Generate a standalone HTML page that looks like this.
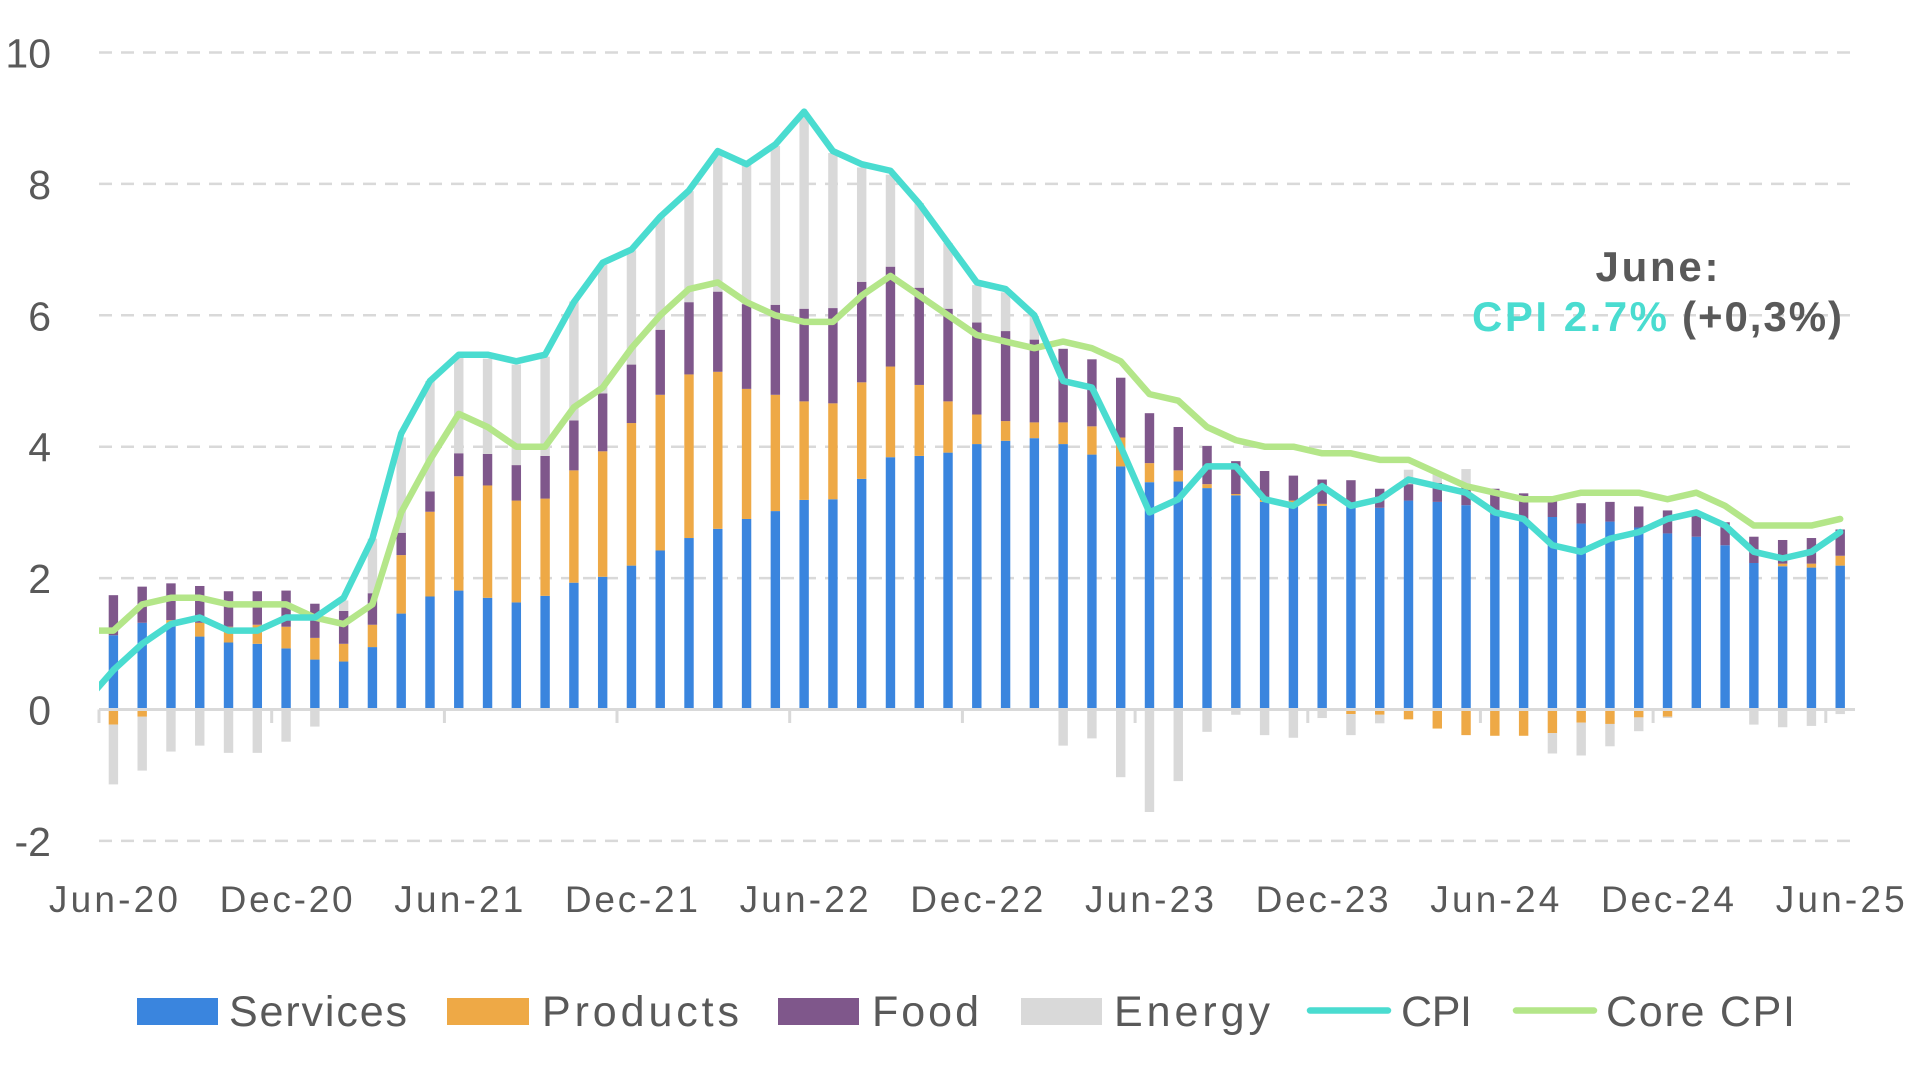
<!DOCTYPE html>
<html>
<head>
<meta charset="utf-8">
<style>
  html, body { margin: 0; padding: 0; background: #ffffff; }
  svg { display: block; }
  .s { fill: #3A85DE; }
  .p { fill: #EEA946; }
  .f { fill: #7F578B; }
  .e { fill: #D9D9D9; }
  text { font-family: "Liberation Sans", Arial, sans-serif; fill: #595959; }
</style>
</head>
<body>
<svg width="1920" height="1080" viewBox="0 0 1920 1080" xmlns="http://www.w3.org/2000/svg">
  <rect x="0" y="0" width="1920" height="1080" fill="#ffffff"/>
  <defs>
    <clipPath id="plot"><rect x="99" y="0" width="1756" height="900"/></clipPath>
  </defs>

  <!-- gridlines -->
  <g stroke="#D9D9D9" stroke-width="2.5" stroke-dasharray="13 9" fill="none">
    <line x1="99" y1="52.5" x2="1855" y2="52.5"/>
    <line x1="99" y1="183.9" x2="1855" y2="183.9"/>
    <line x1="99" y1="315.3" x2="1855" y2="315.3"/>
    <line x1="99" y1="446.7" x2="1855" y2="446.7"/>
    <line x1="99" y1="578.1" x2="1855" y2="578.1"/>
    <line x1="99" y1="840.9" x2="1855" y2="840.9"/>
  </g>

  <!-- y labels -->
  <g font-size="41" text-anchor="end">
    <text x="51" y="67.5">10</text>
    <text x="51" y="198.9">8</text>
    <text x="51" y="330.3">6</text>
    <text x="51" y="461.7">4</text>
    <text x="51" y="593.1">2</text>
    <text x="51" y="724.5">0</text>
    <text x="51" y="855.9">-2</text>
  </g>

  <!-- bars -->
  <g transform="translate(99,709.5) scale(28.78,-65.7)">
    <g transform="translate(0.337)"><rect class="s" y="0" width=".327" height="1.13"/><rect class="p" y="-0.23" width=".327" height="0.23"/><rect class="f" y="1.13" width=".327" height="0.61"/><rect class="e" y="-1.14" width=".327" height="0.91"/></g>
    <g transform="translate(1.337)"><rect class="s" y="0" width=".327" height="1.32"/><rect class="p" y="-0.11" width=".327" height="0.11"/><rect class="f" y="1.32" width=".327" height="0.55"/><rect class="e" y="-0.93" width=".327" height="0.82"/></g>
    <g transform="translate(2.337)"><rect class="s" y="0" width=".327" height="1.29"/><rect class="p" y="1.29" width=".327" height="0.07"/><rect class="f" y="1.36" width=".327" height="0.56"/><rect class="e" y="-0.64" width=".327" height="0.64"/></g>
    <g transform="translate(3.337)"><rect class="s" y="0" width=".327" height="1.11"/><rect class="p" y="1.11" width=".327" height="0.21"/><rect class="f" y="1.32" width=".327" height="0.56"/><rect class="e" y="-0.55" width=".327" height="0.55"/></g>
    <g transform="translate(4.337)"><rect class="s" y="0" width=".327" height="1.02"/><rect class="p" y="1.02" width=".327" height="0.24"/><rect class="f" y="1.26" width=".327" height="0.54"/><rect class="e" y="-0.66" width=".327" height="0.66"/></g>
    <g transform="translate(5.337)"><rect class="s" y="0" width=".327" height="1.00"/><rect class="p" y="1.00" width=".327" height="0.29"/><rect class="f" y="1.29" width=".327" height="0.51"/><rect class="e" y="-0.66" width=".327" height="0.66"/></g>
    <g transform="translate(6.337)"><rect class="s" y="0" width=".327" height="0.93"/><rect class="p" y="0.93" width=".327" height="0.33"/><rect class="f" y="1.26" width=".327" height="0.55"/><rect class="e" y="-0.49" width=".327" height="0.49"/></g>
    <g transform="translate(7.337)"><rect class="s" y="0" width=".327" height="0.76"/><rect class="p" y="0.76" width=".327" height="0.33"/><rect class="f" y="1.09" width=".327" height="0.52"/><rect class="e" y="-0.26" width=".327" height="0.26"/></g>
    <g transform="translate(8.337)"><rect class="s" y="0" width=".327" height="0.73"/><rect class="p" y="0.73" width=".327" height="0.27"/><rect class="f" y="1.00" width=".327" height="0.50"/><rect class="e" y="1.50" width=".327" height="0.16"/></g>
    <g transform="translate(9.337)"><rect class="s" y="0" width=".327" height="0.95"/><rect class="p" y="0.95" width=".327" height="0.34"/><rect class="f" y="1.29" width=".327" height="0.48"/><rect class="e" y="1.77" width=".327" height="0.83"/></g>
    <g transform="translate(10.337)"><rect class="s" y="0" width=".327" height="1.46"/><rect class="p" y="1.46" width=".327" height="0.89"/><rect class="f" y="2.35" width=".327" height="0.34"/><rect class="e" y="2.69" width=".327" height="1.45"/></g>
    <g transform="translate(11.337)"><rect class="s" y="0" width=".327" height="1.72"/><rect class="p" y="1.72" width=".327" height="1.29"/><rect class="f" y="3.01" width=".327" height="0.31"/><rect class="e" y="3.32" width=".327" height="1.68"/></g>
    <g transform="translate(12.337)"><rect class="s" y="0" width=".327" height="1.81"/><rect class="p" y="1.81" width=".327" height="1.74"/><rect class="f" y="3.55" width=".327" height="0.35"/><rect class="e" y="3.90" width=".327" height="1.47"/></g>
    <g transform="translate(13.337)"><rect class="s" y="0" width=".327" height="1.70"/><rect class="p" y="1.70" width=".327" height="1.71"/><rect class="f" y="3.41" width=".327" height="0.48"/><rect class="e" y="3.89" width=".327" height="1.45"/></g>
    <g transform="translate(14.337)"><rect class="s" y="0" width=".327" height="1.63"/><rect class="p" y="1.63" width=".327" height="1.55"/><rect class="f" y="3.18" width=".327" height="0.54"/><rect class="e" y="3.72" width=".327" height="1.53"/></g>
    <g transform="translate(15.337)"><rect class="s" y="0" width=".327" height="1.73"/><rect class="p" y="1.73" width=".327" height="1.48"/><rect class="f" y="3.21" width=".327" height="0.65"/><rect class="e" y="3.86" width=".327" height="1.51"/></g>
    <g transform="translate(16.337)"><rect class="s" y="0" width=".327" height="1.93"/><rect class="p" y="1.93" width=".327" height="1.71"/><rect class="f" y="3.64" width=".327" height="0.76"/><rect class="e" y="4.40" width=".327" height="1.81"/></g>
    <g transform="translate(17.337)"><rect class="s" y="0" width=".327" height="2.02"/><rect class="p" y="2.02" width=".327" height="1.91"/><rect class="f" y="3.93" width=".327" height="0.88"/><rect class="e" y="4.81" width=".327" height="1.96"/></g>
    <g transform="translate(18.337)"><rect class="s" y="0" width=".327" height="2.19"/><rect class="p" y="2.19" width=".327" height="2.17"/><rect class="f" y="4.36" width=".327" height="0.89"/><rect class="e" y="5.25" width=".327" height="1.74"/></g>
    <g transform="translate(19.337)"><rect class="s" y="0" width=".327" height="2.42"/><rect class="p" y="2.42" width=".327" height="2.37"/><rect class="f" y="4.79" width=".327" height="0.99"/><rect class="e" y="5.78" width=".327" height="1.71"/></g>
    <g transform="translate(20.337)"><rect class="s" y="0" width=".327" height="2.61"/><rect class="p" y="2.61" width=".327" height="2.49"/><rect class="f" y="5.10" width=".327" height="1.10"/><rect class="e" y="6.20" width=".327" height="1.69"/></g>
    <g transform="translate(21.337)"><rect class="s" y="0" width=".327" height="2.75"/><rect class="p" y="2.75" width=".327" height="2.39"/><rect class="f" y="5.14" width=".327" height="1.22"/><rect class="e" y="6.36" width=".327" height="2.13"/></g>
    <g transform="translate(22.337)"><rect class="s" y="0" width=".327" height="2.90"/><rect class="p" y="2.90" width=".327" height="1.98"/><rect class="f" y="4.88" width=".327" height="1.29"/><rect class="e" y="6.17" width=".327" height="2.13"/></g>
    <g transform="translate(23.337)"><rect class="s" y="0" width=".327" height="3.02"/><rect class="p" y="3.02" width=".327" height="1.77"/><rect class="f" y="4.79" width=".327" height="1.37"/><rect class="e" y="6.16" width=".327" height="2.42"/></g>
    <g transform="translate(24.337)"><rect class="s" y="0" width=".327" height="3.19"/><rect class="p" y="3.19" width=".327" height="1.50"/><rect class="f" y="4.69" width=".327" height="1.41"/><rect class="e" y="6.10" width=".327" height="2.96"/></g>
    <g transform="translate(25.337)"><rect class="s" y="0" width=".327" height="3.20"/><rect class="p" y="3.20" width=".327" height="1.46"/><rect class="f" y="4.66" width=".327" height="1.45"/><rect class="e" y="6.11" width=".327" height="2.36"/></g>
    <g transform="translate(26.337)"><rect class="s" y="0" width=".327" height="3.51"/><rect class="p" y="3.51" width=".327" height="1.47"/><rect class="f" y="4.98" width=".327" height="1.53"/><rect class="e" y="6.51" width=".327" height="1.74"/></g>
    <g transform="translate(27.337)"><rect class="s" y="0" width=".327" height="3.84"/><rect class="p" y="3.84" width=".327" height="1.38"/><rect class="f" y="5.22" width=".327" height="1.52"/><rect class="e" y="6.74" width=".327" height="1.40"/></g>
    <g transform="translate(28.337)"><rect class="s" y="0" width=".327" height="3.86"/><rect class="p" y="3.86" width=".327" height="1.08"/><rect class="f" y="4.94" width=".327" height="1.48"/><rect class="e" y="6.42" width=".327" height="1.29"/></g>
    <g transform="translate(29.337)"><rect class="s" y="0" width=".327" height="3.91"/><rect class="p" y="3.91" width=".327" height="0.78"/><rect class="f" y="4.69" width=".327" height="1.41"/><rect class="e" y="6.10" width=".327" height="1.00"/></g>
    <g transform="translate(30.337)"><rect class="s" y="0" width=".327" height="4.04"/><rect class="p" y="4.04" width=".327" height="0.45"/><rect class="f" y="4.49" width=".327" height="1.40"/><rect class="e" y="5.89" width=".327" height="0.57"/></g>
    <g transform="translate(31.337)"><rect class="s" y="0" width=".327" height="4.09"/><rect class="p" y="4.09" width=".327" height="0.30"/><rect class="f" y="4.39" width=".327" height="1.37"/><rect class="e" y="5.76" width=".327" height="0.59"/></g>
    <g transform="translate(32.337)"><rect class="s" y="0" width=".327" height="4.13"/><rect class="p" y="4.13" width=".327" height="0.24"/><rect class="f" y="4.37" width=".327" height="1.26"/><rect class="e" y="5.63" width=".327" height="0.36"/></g>
    <g transform="translate(33.337)"><rect class="s" y="0" width=".327" height="4.04"/><rect class="p" y="4.04" width=".327" height="0.33"/><rect class="f" y="4.37" width=".327" height="1.12"/><rect class="e" y="-0.55" width=".327" height="0.55"/></g>
    <g transform="translate(34.337)"><rect class="s" y="0" width=".327" height="3.88"/><rect class="p" y="3.88" width=".327" height="0.43"/><rect class="f" y="4.31" width=".327" height="1.02"/><rect class="e" y="-0.44" width=".327" height="0.44"/></g>
    <g transform="translate(35.337)"><rect class="s" y="0" width=".327" height="3.70"/><rect class="p" y="3.70" width=".327" height="0.44"/><rect class="f" y="4.14" width=".327" height="0.91"/><rect class="e" y="-1.03" width=".327" height="1.03"/></g>
    <g transform="translate(36.337)"><rect class="s" y="0" width=".327" height="3.46"/><rect class="p" y="3.46" width=".327" height="0.29"/><rect class="f" y="3.75" width=".327" height="0.76"/><rect class="e" y="-1.56" width=".327" height="1.56"/></g>
    <g transform="translate(37.337)"><rect class="s" y="0" width=".327" height="3.47"/><rect class="p" y="3.47" width=".327" height="0.17"/><rect class="f" y="3.64" width=".327" height="0.66"/><rect class="e" y="-1.09" width=".327" height="1.09"/></g>
    <g transform="translate(38.337)"><rect class="s" y="0" width=".327" height="3.37"/><rect class="p" y="3.37" width=".327" height="0.06"/><rect class="f" y="3.43" width=".327" height="0.58"/><rect class="e" y="-0.34" width=".327" height="0.34"/></g>
    <g transform="translate(39.337)"><rect class="s" y="0" width=".327" height="3.26"/><rect class="p" y="3.26" width=".327" height="0.02"/><rect class="f" y="3.28" width=".327" height="0.50"/><rect class="e" y="-0.08" width=".327" height="0.08"/></g>
    <g transform="translate(40.337)"><rect class="s" y="0" width=".327" height="3.16"/><rect class="p" y="3.16" width=".327" height="0.03"/><rect class="f" y="3.19" width=".327" height="0.44"/><rect class="e" y="-0.39" width=".327" height="0.39"/></g>
    <g transform="translate(41.337)"><rect class="s" y="0" width=".327" height="3.09"/><rect class="p" y="3.09" width=".327" height="0.09"/><rect class="f" y="3.18" width=".327" height="0.38"/><rect class="e" y="-0.43" width=".327" height="0.43"/></g>
    <g transform="translate(42.337)"><rect class="s" y="0" width=".327" height="3.10"/><rect class="p" y="3.10" width=".327" height="0.03"/><rect class="f" y="3.13" width=".327" height="0.37"/><rect class="e" y="-0.13" width=".327" height="0.13"/></g>
    <g transform="translate(43.337)"><rect class="s" y="0" width=".327" height="3.09"/><rect class="p" y="-0.07" width=".327" height="0.07"/><rect class="f" y="3.09" width=".327" height="0.40"/><rect class="e" y="-0.39" width=".327" height="0.32"/></g>
    <g transform="translate(44.337)"><rect class="s" y="0" width=".327" height="3.07"/><rect class="p" y="-0.08" width=".327" height="0.08"/><rect class="f" y="3.07" width=".327" height="0.29"/><rect class="e" y="-0.21" width=".327" height="0.13"/></g>
    <g transform="translate(45.337)"><rect class="s" y="0" width=".327" height="3.18"/><rect class="p" y="-0.15" width=".327" height="0.15"/><rect class="f" y="3.18" width=".327" height="0.25"/><rect class="e" y="3.43" width=".327" height="0.22"/></g>
    <g transform="translate(46.337)"><rect class="s" y="0" width=".327" height="3.16"/><rect class="p" y="-0.29" width=".327" height="0.29"/><rect class="f" y="3.16" width=".327" height="0.29"/><rect class="e" y="3.45" width=".327" height="0.13"/></g>
    <g transform="translate(47.337)"><rect class="s" y="0" width=".327" height="3.11"/><rect class="p" y="-0.39" width=".327" height="0.39"/><rect class="f" y="3.11" width=".327" height="0.27"/><rect class="e" y="3.38" width=".327" height="0.28"/></g>
    <g transform="translate(48.337)"><rect class="s" y="0" width=".327" height="2.97"/><rect class="p" y="-0.40" width=".327" height="0.40"/><rect class="f" y="2.97" width=".327" height="0.39"/></g>
    <g transform="translate(49.337)"><rect class="s" y="0" width=".327" height="2.87"/><rect class="p" y="-0.40" width=".327" height="0.40"/><rect class="f" y="2.87" width=".327" height="0.42"/></g>
    <g transform="translate(50.337)"><rect class="s" y="0" width=".327" height="2.93"/><rect class="p" y="-0.36" width=".327" height="0.36"/><rect class="f" y="2.93" width=".327" height="0.28"/><rect class="e" y="-0.67" width=".327" height="0.31"/></g>
    <g transform="translate(51.337)"><rect class="s" y="0" width=".327" height="2.83"/><rect class="p" y="-0.20" width=".327" height="0.20"/><rect class="f" y="2.83" width=".327" height="0.31"/><rect class="e" y="-0.70" width=".327" height="0.50"/></g>
    <g transform="translate(52.337)"><rect class="s" y="0" width=".327" height="2.86"/><rect class="p" y="-0.22" width=".327" height="0.22"/><rect class="f" y="2.86" width=".327" height="0.30"/><rect class="e" y="-0.56" width=".327" height="0.34"/></g>
    <g transform="translate(53.337)"><rect class="s" y="0" width=".327" height="2.77"/><rect class="p" y="-0.12" width=".327" height="0.12"/><rect class="f" y="2.77" width=".327" height="0.32"/><rect class="e" y="-0.33" width=".327" height="0.21"/></g>
    <g transform="translate(54.337)"><rect class="s" y="0" width=".327" height="2.68"/><rect class="p" y="-0.11" width=".327" height="0.11"/><rect class="f" y="2.68" width=".327" height="0.35"/><rect class="e" y="-0.13" width=".327" height="0.02"/></g>
    <g transform="translate(55.337)"><rect class="s" y="0" width=".327" height="2.63"/><rect class="f" y="2.63" width=".327" height="0.36"/></g>
    <g transform="translate(56.337)"><rect class="s" y="0" width=".327" height="2.50"/><rect class="f" y="2.50" width=".327" height="0.35"/></g>
    <g transform="translate(57.337)"><rect class="s" y="0" width=".327" height="2.23"/><rect class="f" y="2.23" width=".327" height="0.40"/><rect class="e" y="-0.23" width=".327" height="0.23"/></g>
    <g transform="translate(58.337)"><rect class="s" y="0" width=".327" height="2.18"/><rect class="p" y="2.18" width=".327" height="0.04"/><rect class="f" y="2.22" width=".327" height="0.36"/><rect class="e" y="-0.27" width=".327" height="0.27"/></g>
    <g transform="translate(59.337)"><rect class="s" y="0" width=".327" height="2.16"/><rect class="p" y="2.16" width=".327" height="0.06"/><rect class="f" y="2.22" width=".327" height="0.39"/><rect class="e" y="-0.25" width=".327" height="0.25"/></g>
    <g transform="translate(60.337)"><rect class="s" y="0" width=".327" height="2.19"/><rect class="p" y="2.19" width=".327" height="0.15"/><rect class="f" y="2.34" width=".327" height="0.40"/><rect class="e" y="-0.07" width=".327" height="0.07"/></g>
  </g>

  <!-- zero axis and ticks -->
  <g stroke="#D9D9D9" stroke-width="3" fill="none">
    <line x1="99" y1="709.5" x2="1855" y2="709.5"/>
    <line x1="99" y1="709.5" x2="99" y2="723"/>
    <line x1="271.7" y1="709.5" x2="271.7" y2="723"/>
    <line x1="444.4" y1="709.5" x2="444.4" y2="723"/>
    <line x1="617.0" y1="709.5" x2="617.0" y2="723"/>
    <line x1="789.7" y1="709.5" x2="789.7" y2="723"/>
    <line x1="962.4" y1="709.5" x2="962.4" y2="723"/>
    <line x1="1135.1" y1="709.5" x2="1135.1" y2="723"/>
    <line x1="1307.8" y1="709.5" x2="1307.8" y2="723"/>
    <line x1="1480.4" y1="709.5" x2="1480.4" y2="723"/>
    <line x1="1653.1" y1="709.5" x2="1653.1" y2="723"/>
    <line x1="1825.8" y1="709.5" x2="1825.8" y2="723"/>
  </g>

  <!-- lines -->
  <g clip-path="url(#plot)">
    <g transform="translate(99,709.5) scale(28.78,-65.7)">
      <polyline vector-effect="non-scaling-stroke" fill="none" stroke="#B4E689" stroke-width="6.5" stroke-linejoin="round" stroke-linecap="round"
        points="-0.5,1.2 0.5,1.2 1.5,1.6 2.5,1.7 3.5,1.7 4.5,1.6 5.5,1.6 6.5,1.6 7.5,1.4 8.5,1.3 9.5,1.6 10.5,3.0 11.5,3.8 12.5,4.5 13.5,4.3 14.5,4.0 15.5,4.0 16.5,4.6 17.5,4.9 18.5,5.5 19.5,6.0 20.5,6.4 21.5,6.5 22.5,6.2 23.5,6.0 24.5,5.9 25.5,5.9 26.5,6.3 27.5,6.6 28.5,6.3 29.5,6.0 30.5,5.7 31.5,5.6 32.5,5.5 33.5,5.6 34.5,5.5 35.5,5.3 36.5,4.8 37.5,4.7 38.5,4.3 39.5,4.1 40.5,4.0 41.5,4.0 42.5,3.9 43.5,3.9 44.5,3.8 45.5,3.8 46.5,3.6 47.5,3.4 48.5,3.3 49.5,3.2 50.5,3.2 51.5,3.3 52.5,3.3 53.5,3.3 54.5,3.2 55.5,3.3 56.5,3.1 57.5,2.8 58.5,2.8 59.5,2.8 60.5,2.9"/>
      <polyline vector-effect="non-scaling-stroke" fill="none" stroke="#4ADCD0" stroke-width="6.5" stroke-linejoin="round" stroke-linecap="round"
        points="-0.5,0.1 0.5,0.6 1.5,1.0 2.5,1.3 3.5,1.4 4.5,1.2 5.5,1.2 6.5,1.4 7.5,1.4 8.5,1.7 9.5,2.6 10.5,4.2 11.5,5.0 12.5,5.4 13.5,5.4 14.5,5.3 15.5,5.4 16.5,6.2 17.5,6.8 18.5,7.0 19.5,7.5 20.5,7.9 21.5,8.5 22.5,8.3 23.5,8.6 24.5,9.1 25.5,8.5 26.5,8.3 27.5,8.2 28.5,7.7 29.5,7.1 30.5,6.5 31.5,6.4 32.5,6.0 33.5,5.0 34.5,4.9 35.5,4.0 36.5,3.0 37.5,3.2 38.5,3.7 39.5,3.7 40.5,3.2 41.5,3.1 42.5,3.4 43.5,3.1 44.5,3.2 45.5,3.5 46.5,3.4 47.5,3.3 48.5,3.0 49.5,2.9 50.5,2.5 51.5,2.4 52.5,2.6 53.5,2.7 54.5,2.9 55.5,3.0 56.5,2.8 57.5,2.4 58.5,2.3 59.5,2.4 60.5,2.7"/>
    </g>
  </g>

  <!-- x labels -->
  <g font-size="37" text-anchor="middle">
    <text x="113.4" y="912" textLength="129">Jun-20</text>
    <text x="286.1" y="912" textLength="133">Dec-20</text>
    <text x="458.8" y="912" textLength="129">Jun-21</text>
    <text x="631.4" y="912" textLength="133">Dec-21</text>
    <text x="804.1" y="912" textLength="129">Jun-22</text>
    <text x="976.8" y="912" textLength="133">Dec-22</text>
    <text x="1149.5" y="912" textLength="129">Jun-23</text>
    <text x="1322.1" y="912" textLength="133">Dec-23</text>
    <text x="1494.8" y="912" textLength="129">Jun-24</text>
    <text x="1667.5" y="912" textLength="133">Dec-24</text>
    <text x="1840.2" y="912" textLength="129">Jun-25</text>
  </g>

  <!-- annotation -->
  <text x="1657" y="281" font-size="42" font-weight="bold" text-anchor="middle" textLength="123">June:</text>
  <text x="1472" y="331" font-size="42" font-weight="bold" textLength="195" style="fill:#4ADCD0">CPI 2.7%</text>
  <text x="1682" y="331" font-size="42" font-weight="bold" textLength="160">(+0,3%)</text>

  <!-- legend -->
  <rect class="s" x="137" y="998" width="81" height="27"/>
  <text x="229" y="1026" font-size="43" textLength="178">Services</text>
  <rect class="p" x="447" y="998" width="82" height="27"/>
  <text x="542" y="1026" font-size="43" textLength="197">Products</text>
  <rect class="f" x="778" y="998" width="81" height="27"/>
  <text x="872" y="1026" font-size="43" textLength="107">Food</text>
  <rect class="e" x="1021" y="998" width="81" height="27"/>
  <text x="1114" y="1026" font-size="43" textLength="156">Energy</text>
  <line x1="1310" y1="1010.5" x2="1388" y2="1010.5" stroke="#4ADCD0" stroke-width="6.5" stroke-linecap="round"/>
  <text x="1401" y="1026" font-size="43" textLength="71">CPI</text>
  <line x1="1516" y1="1010.5" x2="1594" y2="1010.5" stroke="#B4E689" stroke-width="6.5" stroke-linecap="round"/>
  <text x="1606" y="1026" font-size="43" textLength="189">Core CPI</text>
</svg>
</body>
</html>
